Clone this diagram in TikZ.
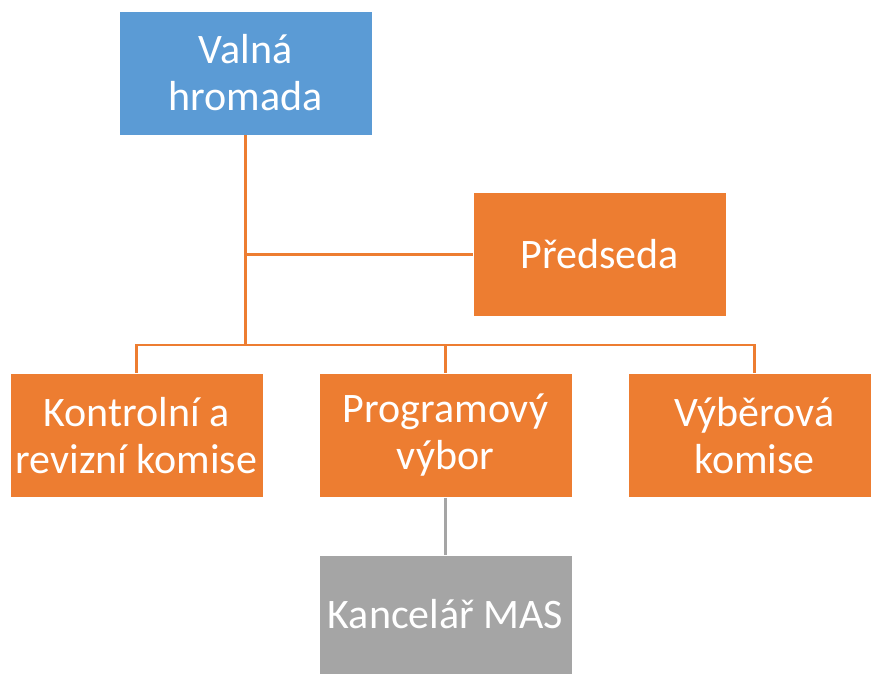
\documentclass[tikz,border=0pt]{standalone}
\usepackage{fontspec}
\setmainfont{Carlito}
\definecolor{boxblue}{HTML}{5B9BD5}
\definecolor{boxorange}{HTML}{ED7D31}
\definecolor{boxgray}{HTML}{A5A5A5}
\begin{document}
\begin{tikzpicture}[x=1pt,y=-1pt,
    unit/.style={fill=boxorange,draw=white,line width=0.6pt,text=white,
      minimum width=253pt,minimum height=124pt,align=center,inner sep=0pt,
      font=\fontsize{42}{47}\selectfont},
    link/.style={draw=boxorange,line width=2.5pt}]
  \useasboundingbox (0,0) rectangle (871,674);
  \draw
    (245.5,73) node[unit,fill=boxblue] (valna){Valná\\hromada}
    (599.5,254.5) node[unit] (predseda){Předseda}
    (136.5,435.5) node[unit] (kontrolni){Kontrolní a\\revizní komise}
    (445.5,435.5) node[unit] (program){Programový\\výbor}
    (754.5,435.5) node[unit] (vyber){Výběrová\\komise}
    (445.5,614.5) node[unit,fill=boxgray,minimum height=119pt] (kancelar){Kancelář MAS};
  \coordinate (bus) at (245.5,345);
  \begin{scope}[link]
    \draw[line width=3pt] (valna.south) -- (bus);
    \draw (valna.south |- predseda.west) -- (predseda.west);
    \draw (bus) -| (kontrolni.north);
    \draw (bus) -| (program.north);
    \draw (bus) -| (vyber.north);
    \draw[draw=boxgray] (program.south) -- (kancelar.north);
  \end{scope}
\end{tikzpicture}
\end{document}
